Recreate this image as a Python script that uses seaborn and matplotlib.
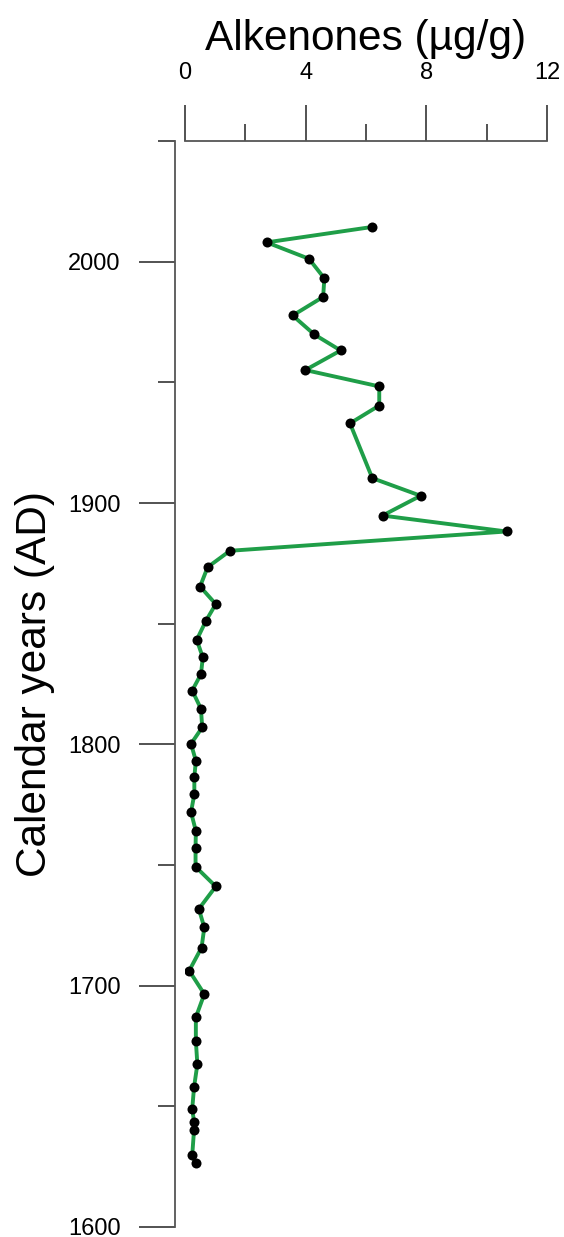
import pandas as pd
import seaborn as sns
import matplotlib.pyplot as plt
from matplotlib.ticker import MultipleLocator

# values
years = [2014.4, 2008.0, 2001.2, 1993.1, 1985.4, 1977.7, 1969.9, 1963.2, 1955.1, 1948.3,
         1940.4, 1933.0, 1910.3, 1903.0, 1894.8, 1888.2, 1880.2, 1873.4, 1865.4, 1858.1,
         1851.3, 1843.3, 1836.0, 1829.1, 1822.3, 1814.7, 1807.0, 1800.2, 1793.2, 1786.4,
         1779.4, 1771.9, 1764.1, 1757.2, 1749.3, 1741.1, 1731.8, 1724.1, 1715.8, 1706.2,
         1696.5, 1686.9, 1677.1, 1667.4, 1657.9, 1648.9, 1643.6, 1640.2, 1629.8, 1626.4]
alkenones = [6.21, 2.71, 4.11, 4.62, 4.58, 3.57, 4.28, 5.16, 3.99, 6.44,
             6.44, 5.47, 6.21, 7.81, 6.55, 10.66, 1.49, 0.75, 0.50, 1.02,
             0.70, 0.39, 0.59, 0.53, 0.24, 0.53, 0.57, 0.20, 0.36, 0.31,
             0.31, 0.20, 0.36, 0.35, 0.35, 1.02, 0.46, 0.64, 0.55, 0.14,
             0.64, 0.36, 0.36, 0.41, 0.30, 0.24, 0.30, 0.30, 0.24, 0.35]

x_ticks = [0, 4, 8, 12]
y_ticks = [1600, 1700, 1800, 1900, 2000]

df = pd.DataFrame({'year': years, 'alk': alkenones})

sns.set_style('ticks')
plt.rcParams['font.family'] = ['Liberation Sans', 'DejaVu Sans']

fig = plt.figure(figsize=(5.64, 12.37), dpi=100)
ax = fig.add_axes([0.328, 0.0081, 0.6418, 0.8779])

sns.lineplot(data=df, x='alk', y='year', sort=False, estimator=None, orient='y',
             color='#1f9e48', linewidth=2.8, ax=ax)
sns.scatterplot(data=df, x='alk', y='year', color='black', s=52, linewidth=0,
                zorder=3, ax=ax)

ax.set_xlim(0, 12)
ax.set_ylim(1600, 2050)

# Achsen wie im Original: oben und links, abgesetzt
for s in ['right', 'bottom']:
    ax.spines[s].set_visible(False)
for s in ['top', 'left']:
    ax.spines[s].set_color('#555555')
    ax.spines[s].set_linewidth(1.3)
ax.spines['left'].set_position(('outward', 7.2))

ax.xaxis.tick_top()
ax.xaxis.set_label_position('top')
ax.set_xticks(x_ticks)
ax.xaxis.set_minor_locator(MultipleLocator(2))
ax.set_yticks(y_ticks)
ax.yaxis.set_minor_locator(MultipleLocator(50))

ax.tick_params(which='major', length=26, width=1.3, color='#444444', labelsize=17,
               labelcolor='black', pad=13)
ax.tick_params(axis='x', which='major', pad=15)
ax.tick_params(which='minor', length=12.5, width=1.3, color='#444444')

ax.set_xlabel('Alkenones (µg/g)', fontsize=30.5, labelpad=9, color='black')
ax.set_ylabel('Calendar years (AD)', fontsize=30.5, color='black')
ax.yaxis.set_label_coords(-0.36, 0.5)

plt.savefig('out.png', dpi=100)
